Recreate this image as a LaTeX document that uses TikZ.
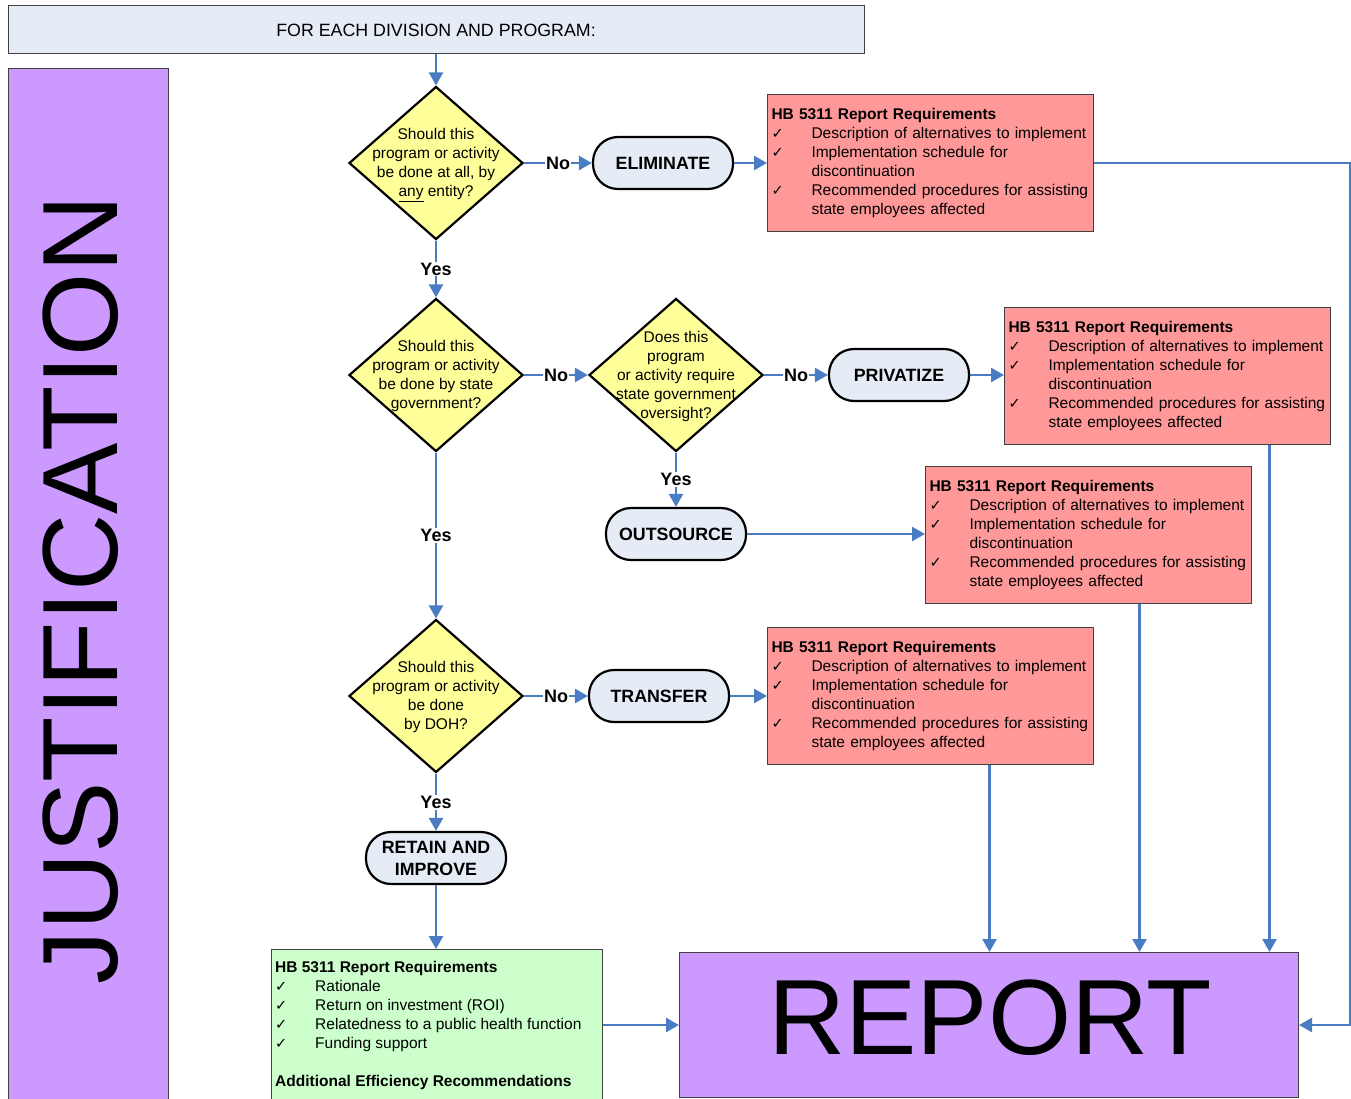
\documentclass[tikz,border=0pt]{standalone}
\usepackage{fontspec}
\setmainfont{Liberation Sans}
\newfontfamily\symfont{DejaVu Sans}
\usetikzlibrary{shapes.geometric}
\usetikzlibrary{arrows.meta}

\definecolor{headfill}{HTML}{E6ECF6}
\definecolor{lilac}{HTML}{CC99FF}
\definecolor{askfill}{HTML}{FFFF99}
\definecolor{reqfill}{HTML}{FF9999}
\definecolor{keepfill}{HTML}{CCFFCC}
\definecolor{flowblue}{HTML}{4A7CC4}

\newcommand{\reqtick}{\makebox[40pt][l]{{\symfont\fontsize{14.5}{19}\selectfont ✓}}}
\newcommand{\reqgap}{\hspace*{40pt}}
\newcommand{\hbreqs}{\textbf{HB 5311 Report Requirements}\\
\reqtick Description of alternatives to implement\\
\reqtick Implementation schedule for\\
\reqgap discontinuation\\
\reqtick Recommended procedures for assisting\\
\reqgap state employees affected}

\tikzset{
  panel/.style={rectangle, draw=black!75, line width=1pt},
  decision/.style={diamond, draw=black, line width=2.2pt, fill=askfill, minimum width=174pt, minimum height=153pt, inner sep=0pt},
  asktext/.style={align=center, inner sep=0pt, font=\fontsize{15.5}{19}\selectfont},
  action/.style={rectangle, rounded corners=25pt, draw=black, line width=2.2pt, fill=headfill, minimum width=140pt, minimum height=52pt, inner sep=3pt, align=center, font=\bfseries\fontsize{17.8}{22}\selectfont},
  reqbox/.style={panel, fill=reqfill, anchor=north west, minimum width=326pt, minimum height=137pt, text width=318pt, inner xsep=4pt, inner ysep=0pt, align=left, font=\fontsize{15.5}{19}\selectfont},
  flow/.style={draw=flowblue, line width=2.5pt, -{Triangle[length=13pt,width=14pt]}},
  answer/.style={fill=white, inner sep=1pt, font=\bfseries\fontsize{18}{22}\selectfont},
  bigword/.style={inner sep=0pt, font=\fontsize{107}{120}\selectfont}
}

\begin{document}
\begin{tikzpicture}[x=1pt,y=-1pt]
\useasboundingbox (0,0) rectangle (1351,1099);

\node[panel, fill=headfill, minimum width=856pt, minimum height=48pt, font=\fontsize{17.8}{22}\selectfont] (head) at (436,30) {FOR EACH DIVISION AND PROGRAM:};
\node[panel, fill=lilac, anchor=north west, minimum width=160pt, minimum height=1060pt] (justbox) at (8,68) {};
\node[bigword, rotate=90] (justword) at (81,590) {JUSTIFICATION};

\node[decision] (q1) at (436,163) {};
\node[asktext] (q1txt) at ([yshift=-2pt]q1.center) {Should this\\program or activity\\be done at all, by\\\underline{any} entity?};
\node[decision] (q2) at (436,375) {};
\node[asktext] (q2txt) at ([yshift=-1pt]q2.center) {Should this\\program or activity\\be done by state\\government?};
\node[decision] (q3) at (676,375) {};
\node[asktext] (q3txt) at ([yshift=-1pt]q3.center) {Does this\\program\\or activity require\\state government\\oversight?};
\node[decision] (q4) at (436,696) {};
\node[asktext] (q4txt) at ([yshift=-1pt]q4.center) {Should this\\program or activity\\be done\\by DOH?};

\node[action] (elim) at (663,163) {ELIMINATE};
\node[action] (priv) at (899,375) {PRIVATIZE};
\node[action] (outs) at (676,534) {OUTSOURCE};
\node[action] (trans) at (659,696) {TRANSFER};
\node[action] (retain) at (436,858) {RETAIN AND\\IMPROVE};

\node[reqbox] (elimreq) at (767,94) {\hbreqs};
\node[reqbox] (privreq) at (1004,307) {\hbreqs};
\node[reqbox] (outreq) at (925,466) {\hbreqs};
\node[reqbox] (transreq) at (767,627) {\hbreqs};

\node[panel, fill=keepfill, anchor=north west, minimum width=331pt, minimum height=170pt] (keep) at (271,949) {};
\node[anchor=north west, inner sep=0pt, align=left, font=\fontsize{15.5}{19}\selectfont] (keeptxt) at (275,961) {\textbf{HB 5311 Report Requirements}\\
\reqtick Rationale\\
\reqtick Return on investment (ROI)\\
\reqtick Relatedness to a public health function\\
\reqtick Funding support\\[19pt]
\textbf{Additional Efficiency Recommendations}};

\node[panel, fill=lilac, anchor=north west, minimum width=619pt, minimum height=145pt] (report) at (679,952) {};
\node[bigword] (reportword) at (990,1018) {REPORT};

\draw[flow] (head.south) -- (q1.north);
\draw[flow] (q1.east) -- node[answer] (no1) {No} (elim.west);
\draw[flow] (elim.east) -- (elim.east -| elimreq.west);
\draw[flow] (q1.south) -- node[answer] (yes1) {Yes} (q2.north);
\draw[flow] (q2.east) -- node[answer] (no2) {No} (q3.west);
\draw[flow] (q3.east) -- node[answer] (no3) {No} (priv.west);
\draw[flow] (priv.east) -- (priv.east -| privreq.west);
\draw[flow] (q3.south) -- node[answer] (yes3) {Yes} (outs.north);
\draw[flow] (outs.east) -- (outs.east -| outreq.west);
\draw[flow] (q2.south) -- node[answer] (yes2) {Yes} (q4.north);
\draw[flow] (q4.east) -- node[answer] (no4) {No} (trans.west);
\draw[flow] (trans.east) -- (trans.east -| transreq.west);
\draw[flow] (q4.south) -- node[answer] (yes4) {Yes} (retain.north);
\draw[flow] (retain.south) -- (retain.south |- keep.north);
\draw[flow] (keep.east |- report.west) -- (report.west);

\draw[flow] (elimreq.east) -- ++(256,0) |- (report.east);
\draw[flow] ([xshift=102pt]privreq.south) -- ([xshift=102pt]privreq.south |- report.north);
\draw[flow] ([xshift=51pt]outreq.south) -- ([xshift=51pt]outreq.south |- report.north);
\draw[flow] ([xshift=59pt]transreq.south) -- ([xshift=59pt]transreq.south |- report.north);

\end{tikzpicture}
\end{document}
